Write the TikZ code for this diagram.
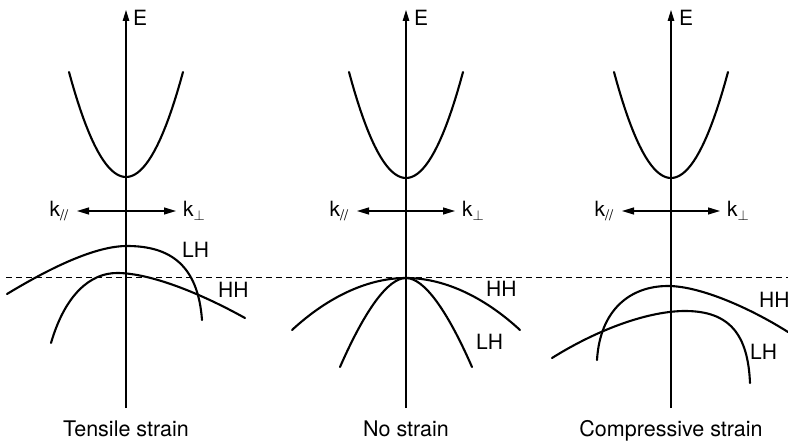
\documentclass[tikz,border=0pt]{standalone}
\usepackage{fontspec}
\setmainfont{TeX Gyre Heros}
\usetikzlibrary{arrows.meta}
\begin{document}
\begin{tikzpicture}[x=1bp,y=-1bp,every node/.style={font=\fontsize{21bp}{25bp}\selectfont,inner sep=0pt},
  axis/.style={line width=1.2bp,-{Triangle[length=11bp,width=6.5bp]}},
  karrow/.style={line width=1.2bp,{Triangle[length=12bp,width=7bp]}-{Triangle[length=12bp,width=7bp]}},
  band/.style={line width=2.1bp,line cap=round},
  level/.style={line width=1bp,dash pattern=on 6bp off 4bp},
  title/.style={font=\fontsize{21.5bp}{26bp}\selectfont,anchor=base}]
\useasboundingbox (0,0) rectangle (788,443);
\coordinate (lvlL) at (6,277.5); \coordinate (lvlR) at (788,277.5);
\draw[level] (lvlL) -- (lvlR);
% tensile strain
\coordinate (tTop) at (126,10); \coordinate (tBot) at (126,408);
\draw[axis] (tBot) -- (tTop);
\node[anchor=base west] (tE) at (133,26) {E};
\draw[band] plot[domain=-57:57,samples=41] ({126+\x},{177-105*(\x/57)^2});
\coordinate (tKl) at (77,211); \coordinate (tKr) at (176,211);
\draw[karrow] (tKl) -- (tKr);
\node[anchor=base east] (tKpar) at (69,217) {k\textsubscript{//}};
\node[anchor=base west] (tKperp) at (183,217) {k$_\perp$};
\draw[band] (7,294) .. controls (50,268) and (95,246) .. (127,246) .. controls (170,246) and (198,265) .. (202,320);
\draw[band] (51,343) .. controls (65,295) and (90,273) .. (117,273) .. controls (150,273) and (200,293) .. (245,318);
\node[anchor=base west] (tLH) at (182,258) {LH};
\node[anchor=base west] (tHH) at (218,298) {HH};
\node[title] (tTitle) at (126,436) {Tensile strain};
% no strain
\coordinate (nTop) at (406,10); \coordinate (nBot) at (406,408);
\draw[axis] (nBot) -- (nTop);
\node[anchor=base west] (nE) at (414,26) {E};
\draw[band] plot[domain=-57:57,samples=41] ({406+\x},{178-106*(\x/57)^2});
\coordinate (nKl) at (357,211); \coordinate (nKr) at (455,211);
\draw[karrow] (nKl) -- (nKr);
\node[anchor=base east] (nKpar) at (349,217) {k\textsubscript{//}};
\node[anchor=base west] (nKperp) at (462,217) {k$_\perp$};
\draw[band] (292,330) .. controls (330,295) and (370,278) .. (406,278) .. controls (442,278) and (482,295) .. (520,330);
\draw[band] (340,367) .. controls (365,310) and (388,278) .. (406,278) .. controls (424,278) and (447,310) .. (472,367);
\node[anchor=base west] (nHH) at (486,297) {HH};
\node[anchor=base west] (nLH) at (476,350) {LH};
\node[title] (nTitle) at (406,436) {No strain};
% compressive strain
\coordinate (cTop) at (671,10); \coordinate (cBot) at (671,408);
\draw[axis] (cBot) -- (cTop);
\node[anchor=base west] (cE) at (679,26) {E};
\draw[band] plot[domain=-57:57,samples=41] ({671+\x},{178-106*(\x/57)^2});
\coordinate (cKl) at (622,211); \coordinate (cKr) at (720,211);
\draw[karrow] (cKl) -- (cKr);
\node[anchor=base east] (cKpar) at (614,217) {k\textsubscript{//}};
\node[anchor=base west] (cKperp) at (727,217) {k$_\perp$};
\draw[band] (597,360) .. controls (600,310) and (630,286) .. (668,286) .. controls (700,286) and (750,308) .. (788,332);
\draw[band] (552,358) .. controls (600,328) and (650,311) .. (685,311) .. controls (730,311) and (748,335) .. (750,383);
\node[anchor=base west] (cHH) at (759,308) {HH};
\node[anchor=base west] (cLH) at (750,360) {LH};
\node[title] (cTitle) at (671,436) {Compressive strain};
\end{tikzpicture}
\end{document}
